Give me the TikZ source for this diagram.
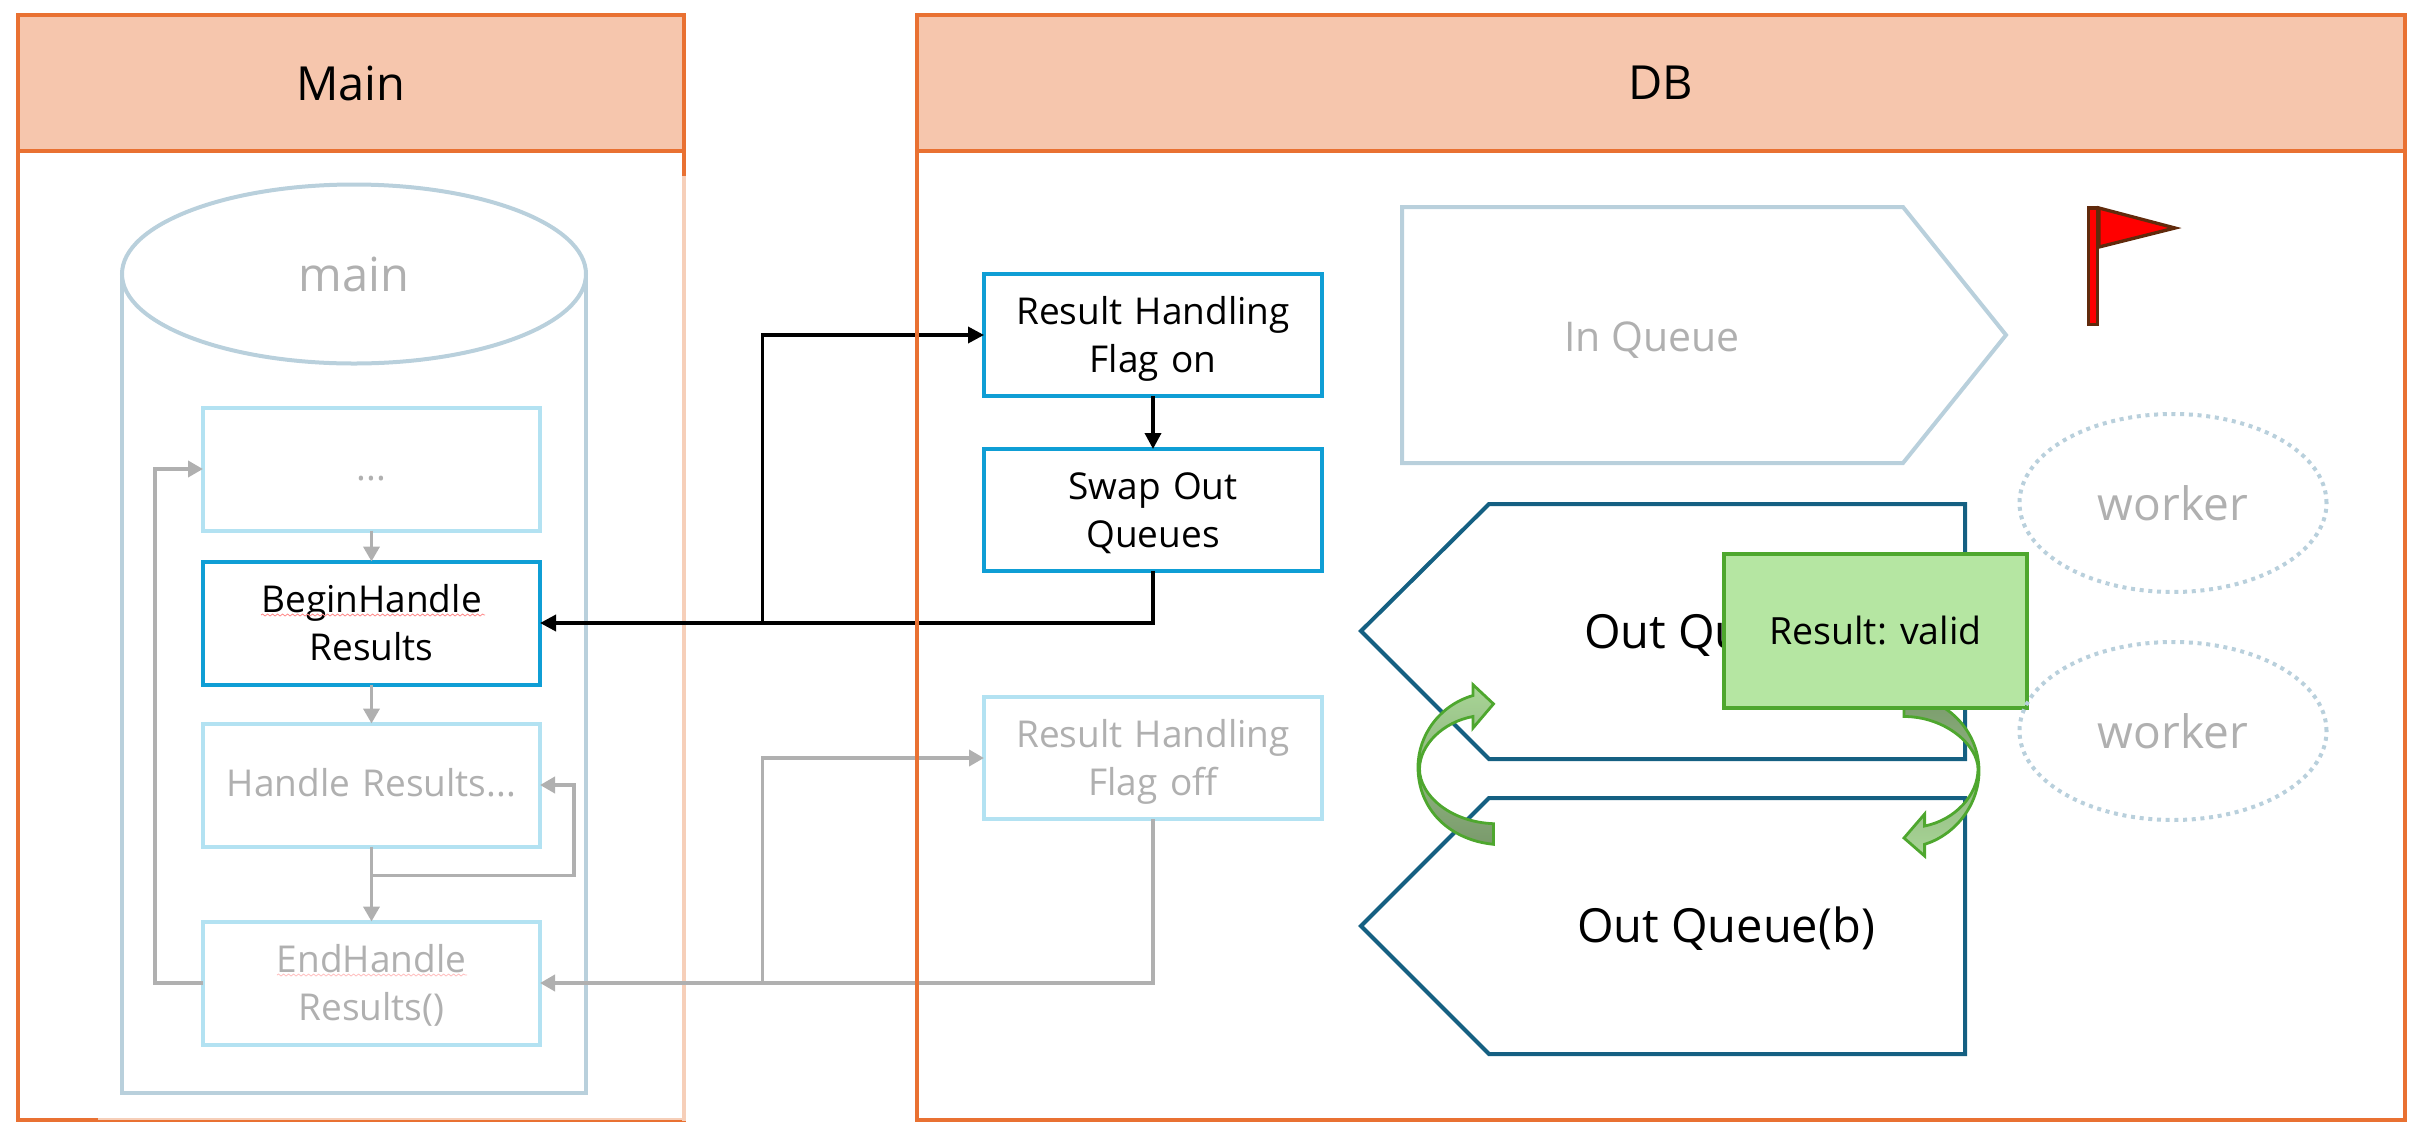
\documentclass[tikz,border=0pt]{standalone}
\usepackage{fontspec}
\setmainfont{Open Sans}
\usepackage{xcolor}
\usepackage{tikz}
\usetikzlibrary{shapes,arrows.meta,positioning,decorations.pathmorphing}
\definecolor{laneline}{HTML}{E97132}
\definecolor{lanefill}{HTML}{F6C6AD}
\definecolor{lanefade}{HTML}{F6CFB9}
\definecolor{boxblue}{HTML}{0F9ED5}
\definecolor{boxfade}{HTML}{B3E2F2}
\definecolor{cylline}{HTML}{B9D0DC}
\definecolor{queueline}{HTML}{156082}
\definecolor{fadegray}{HTML}{B0B0B0}
\definecolor{resultfill}{HTML}{B5E6A2}
\definecolor{resultline}{HTML}{4EA72E}
\definecolor{flagline}{HTML}{612A0C}
\definecolor{swaplight}{HTML}{A8D596}
\definecolor{swapdark}{HTML}{7A9A6C}
\tikzstyle{lanehead} = [rectangle, draw=laneline, fill=lanefill, line width=4pt, minimum height=136pt,
    inner sep=0pt, outer sep=0pt, font=\fontsize{47}{56}\selectfont]
\tikzstyle{block} = [rectangle, draw=boxblue, line width=4pt, fill=white, text width=330pt, align=center,
    inner sep=0pt, outer sep=0pt, minimum width=337pt, minimum height=123pt, text height=30pt, text depth=51pt,
    font=\fontsize{37}{48}\selectfont]
\tikzstyle{blockfade} = [block, draw=boxfade, text=fadegray]
\tikzstyle{oneline} = [text depth=7pt]
\tikzstyle{line} = [draw, line width=3.6pt, -{Triangle[length=16pt,width=16pt]}]
\tikzstyle{linefade} = [draw, line width=3.8pt, fadegray, -{Triangle[length=15pt,width=16pt]}]
\tikzstyle{worker} = [ellipse, draw=cylline, line width=4pt, dash pattern=on 4pt off 4.7pt, text=fadegray,
    minimum width=307pt, minimum height=178pt, inner sep=0pt, outer sep=0pt, font=\fontsize{46}{56}\selectfont]
\tikzstyle{queue} = [draw=queueline, line width=4pt, line join=miter]
\tikzstyle{queuetext} = [inner sep=0pt, outer sep=0pt, anchor=west, font=\fontsize{47}{56}\selectfont]
\tikzstyle{swaparrow} = [draw=resultline, line width=2.8pt, line join=miter]
\tikzstyle{squiggle} = [draw=red!45, line width=0.8pt, decorate, decoration={snake, amplitude=1pt, segment length=5pt}]
\begin{document}
\begin{tikzpicture}[x=1pt, y=-1pt, node distance = 31pt, auto]
      \useasboundingbox (0,0) rectangle (2432,1138);
      % Main
      \node [lanehead, minimum width=666pt] (mainhead) at (351,83) {Main};
      \draw [laneline, line width=4pt] (mainhead.south west) -- (18,1120) -- (684,1120) -- (mainhead.south east);
      \draw [lanefade, line width=4pt] (684,176) -- (684,1121);
      \draw [lanefade, line width=2pt] (98,1119) -- (684,1119);
      \node [ellipse, draw=cylline, line width=4pt, text=fadegray, minimum width=464pt, minimum height=179pt,
          inner sep=0pt, outer sep=0pt, font=\fontsize{47}{56}\selectfont] (main) at (354,274) {main};
      \draw [cylline, line width=4pt] (main.west) |- (586,1093) -- (main.east);
      \node [blockfade, oneline] (dots) at (371.5,469) {...};
      \node [block, below=of dots] (begin) {BeginHandle\\Results};
      \node [blockfade, oneline, below=39pt of begin] (handle) {Handle Results...};
      \node [blockfade, below=75pt of handle] (end) {EndHandle\\Results()};
      \draw [squiggle] (261,615) -- (485,615);
      \draw [squiggle, draw=red!25] (277,975) -- (467,975);
      % DB steps
      \node [block, minimum width=338pt, minimum height=122pt] (flagon) at (1153,335) {Result Handling\\Flag on};
      \node [block, minimum width=338pt, minimum height=122pt, below=53pt of flagon] (swap) {Swap Out\\Queues};
      \node [blockfade, minimum width=338pt, minimum height=122pt, below=126pt of swap] (flagoff) {Result Handling\\Flag off};
      \coordinate (split) at (762.5,623);
      \coordinate (splitfade) at (762.5,983);
      \coordinate (fork) at (371.5,875.5);
      \coordinate (loopright) at (574,875.5);
      \coordinate (loopleft) at (155,983);
      % Draw edges
      \path [linefade] (dots) -- (begin);
      \path [linefade] (begin) -- (handle);
      \path [linefade] (handle) -- (end);
      \path [linefade] (fork) -- (loopright) |- (handle.east);
      \path [linefade] (end.west) -- (loopleft) |- (dots.west);
      \path [linefade] (flagoff.south) |- (end.east);
      \path [linefade] (splitfade) |- (flagoff.west);
      \path [line] (swap.south) |- (begin.east);
      \path [line] (split) |- (flagon.west);
      \path [line] (flagon) -- (swap);
      % DB
      \node [lanehead, minimum width=1488pt] (dbhead) at (1661,83) {DB};
      \draw [laneline, line width=4pt] (dbhead.south west) -- (917,1120) -- (2405,1120) -- (dbhead.south east);
      % Queues
      \draw [cylline, line width=4pt, line join=miter] (1402,207) -- (1903,207) -- (2006,335) -- (1903,463) -- (1402,463) -- cycle;
      \node [text=fadegray, inner sep=0pt, font=\fontsize{41}{50}\selectfont] (inqueue) at (1652,340) {In Queue};
      \draw [queue] (1489,504) -- (1965,504) -- (1965,759) -- (1489,759) -- (1361,631) -- cycle;
      \node [queuetext] (outa) at (1584,635) {Out Queue};
      \draw [queue] (1489,798) -- (1965,798) -- (1965,1054) -- (1489,1054) -- (1361,926) -- cycle;
      \node [queuetext] (outb) at (1577,929) {Out Queue(b)};
      % Swap arrows
      \draw [swaparrow, top color=swaplight, middle color=swaplight!90!swapdark, bottom color=swapdark]
          (1493.5,844.3) .. controls (1450,840) and (1418,810) .. (1418,767)
          .. controls (1418,735) and (1440,705) .. (1473,695.5) -- (1473,684.7) -- (1493.5,703.9) -- (1473,728) -- (1473,716.5)
          .. controls (1443,722) and (1419.5,745) .. (1419.5,769)
          .. controls (1419.5,795) and (1450,822) .. (1493.5,823.7) -- cycle;
      \draw [swaparrow, top color=swapdark, middle color=swaplight!90!swapdark, bottom color=swaplight]
          (1904,696) .. controls (1945,696) and (1979,730) .. (1979,771)
          .. controls (1979,805) and (1955,835) .. (1924.6,844.3) -- (1924.6,856) -- (1904,838) -- (1924.6,814) -- (1924.6,826)
          .. controls (1955,820) and (1978,795) .. (1978,769)
          .. controls (1978,745) and (1945,716.5) .. (1904,716.5) -- cycle;
      \node [rectangle, draw=resultline, fill=resultfill, line width=4pt, inner sep=0pt, outer sep=0pt,
          minimum width=303pt, minimum height=154pt, font=\fontsize{37.5}{48}\selectfont] (result) at (1875.5,631) {Result: valid};
      % Workers and flag
      \node [worker] (workera) at (2173,503) {worker};
      \node [worker] (workerb) at (2173,731) {worker};
      \draw [flagline, fill=red, line width=3.3pt, line join=miter] (2099,208) -- (2175,228) -- (2099,247) -- cycle;
      \draw [flagline, fill=red, line width=3.3pt] (2088.5,208) rectangle (2097.5,324.5);
    \end{tikzpicture}
\end{document}
